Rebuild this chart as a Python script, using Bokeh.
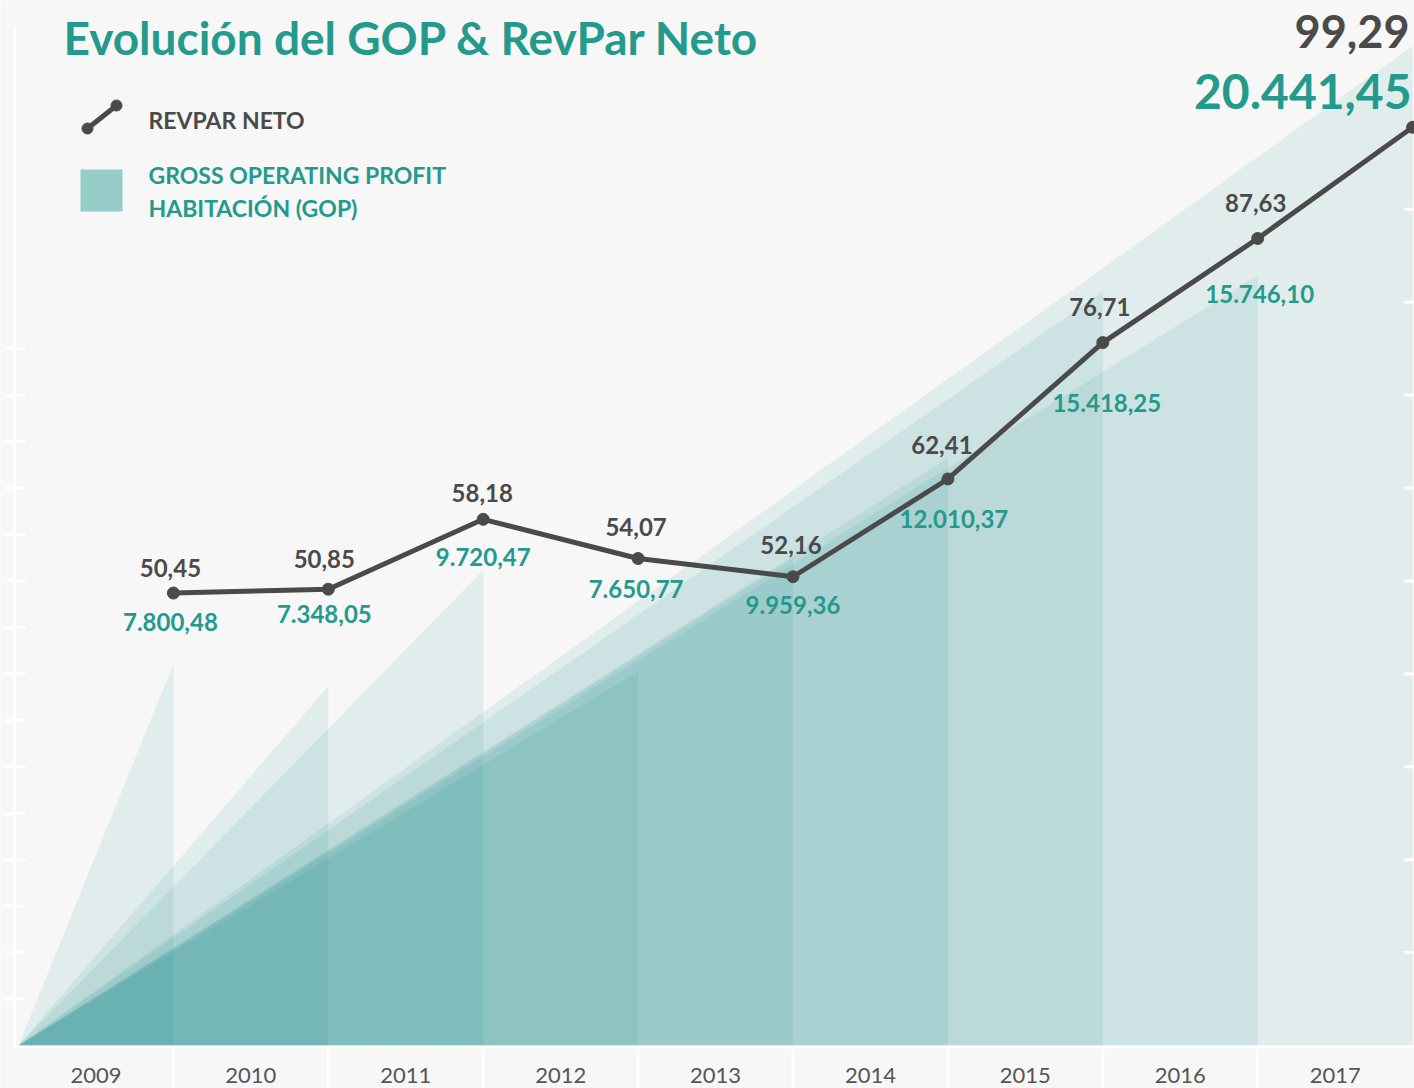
import numpy as np
from bokeh.plotting import figure
from bokeh.models import Range1d, ColumnDataSource, Label
from bokeh.core.properties import value
from bokeh.embed import file_html
from bokeh.resources import INLINE

# ---------------- data ----------------
years = ["2009", "2010", "2011", "2012", "2013", "2014", "2015", "2016", "2017"]
revpar = [50.45, 50.85, 58.18, 54.07, 52.16, 62.41, 76.71, 87.63, 99.29]
gop = [7800.48, 7348.05, 9720.47, 7650.77, 9959.36, 12010.37, 15418.25, 15746.10, 20441.45]

title_text = "Evolución del GOP & RevPar Neto"
legend_line_text = "REVPAR NETO"
legend_area_text = ["GROSS OPERATING PROFIT", "HABITACIÓN (GOP)"]

# ---------------- styles ----------------
W, H = 1414, 1088
BG = "#f7f7f7"
TEAL = "#239a8c"
DARK = "#4a4a4a"
FILL = "#00847c"
FILL_ALPHA = 0.085
FONT = value("Lato")

# label offsets (screen px) for the point labels (style only)
rev_dx = [-3, -4, -1, -2, -2, -6, -3, -2]
rev_dy = [-25, -30, -26, -32, -32, -34, -36, -35]
gop_dx = [-3, -4, 0, -2, 0, 6, 4, 2]
gop_dy = [29, 25, 38, 30, 28, 40, 60, 56]

# scale geometry
X0, BW = 18.0, 154.9          # origin px and bin width px
BASE, K = 1045.0, 0.0489      # GOP baseline px and px per unit
A, B = 1073.7, 9.537          # RevPar mapping

def ux(px):
    return (px - X0) / BW

def gy(py):
    return (BASE - py) / K

def fmt(v):
    s = f"{v:,.2f}"
    return s.replace(",", "X").replace(".", ",").replace("X", ".")

p = figure(width=W, height=H, output_backend="svg", toolbar_location=None,
           x_range=Range1d(ux(0), ux(W)), y_range=Range1d(gy(H), gy(0)),
           x_axis_location=None, y_axis_location=None, min_border=0)
p.extra_y_ranges = {"rev": Range1d((A - H) / B, A / B)}
p.background_fill_color = BG
p.border_fill_color = BG
p.outline_line_color = None
p.xgrid.visible = False
p.ygrid.visible = False

n = len(years)
# ---------------- GOP wedges ----------------
xs = [[0, i + 1, i + 1] for i in range(n)]
ys = [[0, gop[i], 0] for i in range(n)]
order = list(range(n))[::-1]
p.patches([xs[i] for i in order], [ys[i] for i in order], fill_color=FILL,
          fill_alpha=FILL_ALPHA, line_color=None)

# ---------------- axes decoration ----------------
left_ticks = [950 * m for m in range(1, 16)]
right_ticks = [950 * m for m in range(2, 19, 2)]
p.segment(x0=[ux(14)], y0=[gy(25)], x1=[ux(14)], y1=[gy(1046)], line_color="white", line_width=3)
p.segment(x0=[ux(4)] * len(left_ticks), y0=left_ticks, x1=[ux(25)] * len(left_ticks), y1=left_ticks,
          line_color="white", line_width=3)
p.segment(x0=[ux(1404)] * len(right_ticks), y0=right_ticks, x1=[ux(1416)] * len(right_ticks), y1=right_ticks,
          line_color="white", line_width=3)
p.segment(x0=[ux(13)], y0=[gy(1046.5)], x1=[ux(W)], y1=[gy(1046.5)], line_color="white", line_width=3)
seps = list(range(1, n))
p.segment(x0=seps, y0=[gy(1049)] * len(seps), x1=seps, y1=[gy(H)] * len(seps),
          line_color="white", line_width=3)

# year labels
p.text(x=[i + 0.5 for i in range(n)], y=[gy(1075)] * n, text=years,
       text_font=FONT, text_font_size="22px", text_color="#555555",
       text_align="center", text_baseline="middle")

# ---------------- RevPar line ----------------
xp = [i + 1 for i in range(n)]
p.line(xp, revpar, y_range_name="rev", line_color=DARK, line_width=5)
p.scatter(xp, revpar, y_range_name="rev", size=12, color=DARK)

# point labels (all but the last, which is shown large at the top)
src_r = ColumnDataSource(dict(x=xp[:-1], y=revpar[:-1], t=[fmt(v) for v in revpar[:-1]],
                              dx=rev_dx, dy=rev_dy))
p.text(x="x", y="y", text="t", source=src_r, y_range_name="rev", x_offset="dx", y_offset="dy",
       text_font=FONT, text_font_style="bold", text_font_size="24px", text_color=DARK,
       text_align="center", text_baseline="middle")
src_g = ColumnDataSource(dict(x=xp[:-1], y=revpar[:-1], t=[fmt(v) for v in gop[:-1]],
                              dx=gop_dx, dy=gop_dy))
p.text(x="x", y="y", text="t", source=src_g, y_range_name="rev", x_offset="dx", y_offset="dy",
       text_font=FONT, text_font_style="bold", text_font_size="24px", text_color=TEAL,
       text_align="center", text_baseline="middle")

# large final values
p.add_layout(Label(x=ux(1409), y=gy(31), text=fmt(revpar[-1]), text_font="Lato",
                   text_font_style="bold", text_font_size="45px", text_color=DARK,
                   text_align="right", text_baseline="middle"))
p.add_layout(Label(x=ux(1411), y=gy(91), text=fmt(gop[-1]), text_font="Lato",
                   text_font_style="bold", text_font_size="48px", text_color=TEAL,
                   text_align="right", text_baseline="middle"))

# ---------------- title ----------------
p.add_layout(Label(x=ux(63), y=gy(37), text=title_text, text_font="Lato",
                   text_font_style="bold", text_font_size="46px", text_color=TEAL,
                   text_align="left", text_baseline="middle"))

# ---------------- legend ----------------
p.line([ux(87), ux(116)], [gy(128), gy(105)], line_color=DARK, line_width=5)
p.scatter([ux(87), ux(116)], [gy(128), gy(105)], size=11, color=DARK)
p.add_layout(Label(x=ux(148), y=gy(119), text=legend_line_text, text_font="Lato",
                   text_font_style="bold", text_font_size="23px", text_color=DARK,
                   text_align="left", text_baseline="middle"))
p.quad(left=[ux(80)], right=[ux(122)], top=[gy(169)], bottom=[gy(211)],
       fill_color="#96cdc8", line_color=None)
p.add_layout(Label(x=ux(148), y=gy(174), text=legend_area_text[0], text_font="Lato",
                   text_font_style="bold", text_font_size="23px", text_color=TEAL,
                   text_align="left", text_baseline="middle"))
p.add_layout(Label(x=ux(148), y=gy(207), text=legend_area_text[1], text_font="Lato",
                   text_font_style="bold", text_font_size="23px", text_color=TEAL,
                   text_align="left", text_baseline="middle"))

open("out.html", "w").write(file_html(p, INLINE))
